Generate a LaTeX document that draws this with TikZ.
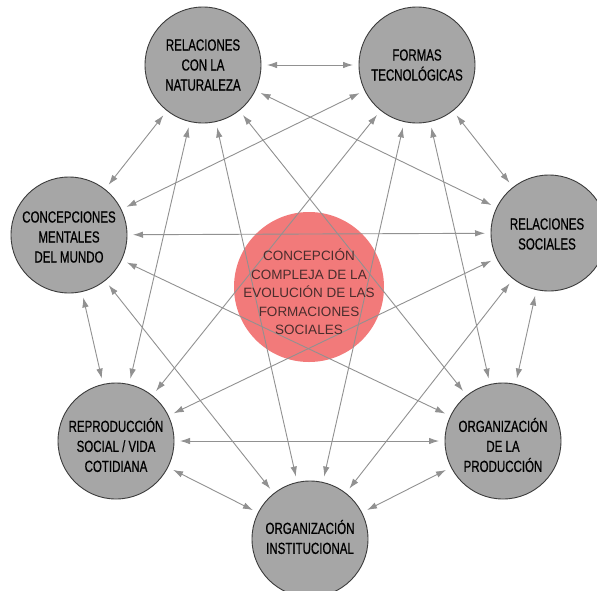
\documentclass[tikz,border=0pt]{standalone}
\usepackage{fontspec}
\setmainfont{Liberation Sans}
\newfontfamily\condfont[FakeStretch=0.72,FakeBold=0.6]{Liberation Sans}
\usetikzlibrary{arrows.meta}
\definecolor{nodegray}{RGB}{166,166,166}
\definecolor{nodeedge}{RGB}{60,60,60}
\definecolor{linkgray}{RGB}{145,145,145}
\definecolor{centerred}{RGB}{242,122,122}
\definecolor{centertext}{RGB}{75,45,45}
\tikzset{
  outer/.style={circle, minimum size=116pt, inner sep=0pt, outer sep=0pt,
    fill=nodegray, draw=nodeedge, line width=0.9pt},
  outertext/.style={align=center, inner sep=0pt,
    font=\condfont\fontsize{16}{20}\selectfont, text=black},
  core/.style={circle, minimum size=150pt, inner sep=0pt, outer sep=0pt,
    fill=centerred},
  coretext/.style={align=center, inner sep=0pt, text=centertext,
    font=\fontsize{13.5}{18.5}\selectfont},
  link/.style={draw=linkgray, line width=0.9pt,
    {Latex[length=10pt,width=6.5pt,fill=linkgray]}-{Latex[length=10pt,width=6.5pt,fill=linkgray]},
    shorten <=6pt, shorten >=6pt}
}
\begin{document}
\begin{tikzpicture}[x=1pt,y=-1pt]
\clip (0,0) rectangle (597,590);
\fill[white] (0,0) rectangle (597,590);
\node[core] (cen) at (309,287) {};
\node[outer] (nat) at (203,65) {};
\node[outer] (tec) at (417,65) {};
\node[outer] (soc) at (549,233) {};
\node[outer] (pro) at (503,441) {};
\node[outer] (ins) at (310,539) {};
\node[outer] (rep) at (116,441) {};
\node[outer] (men) at (69,235) {};
\foreach \a/\b in {nat/tec,nat/soc,nat/pro,nat/ins,nat/rep,nat/men,
  tec/soc,tec/pro,tec/ins,tec/rep,tec/men,
  soc/pro,soc/ins,soc/rep,soc/men,
  pro/ins,pro/rep,pro/men,
  ins/rep,ins/men,
  rep/men}
  \draw[link] (\a) -- (\b);
\node[coretext] (cen-t) at (309,292) {CONCEPCIÓN\\COMPLEJA DE LA\\EVOLUCIÓN DE LAS\\FORMACIONES\\SOCIALES};
\node[outertext] (nat-t) at (203,65) {RELACIONES\\CON LA\\NATURALEZA};
\node[outertext] (tec-t) at (417,65) {FORMAS\\TECNOLÓGICAS};
\node[outertext] (soc-t) at (547,234) {RELACIONES\\SOCIALES};
\node[outertext] (pro-t) at (503,445) {ORGANIZACIÓN\\DE LA\\PRODUCCIÓN};
\node[outertext] (ins-t) at (310,537) {ORGANIZACIÓN\\INSTITUCIONAL};
\node[outertext] (rep-t) at (116,445) {REPRODUCCIÓN\\SOCIAL / VIDA\\COTIDIANA};
\node[outertext] (men-t) at (69,237) {CONCEPCIONES\\MENTALES\\DEL MUNDO};
\end{tikzpicture}
\end{document}
